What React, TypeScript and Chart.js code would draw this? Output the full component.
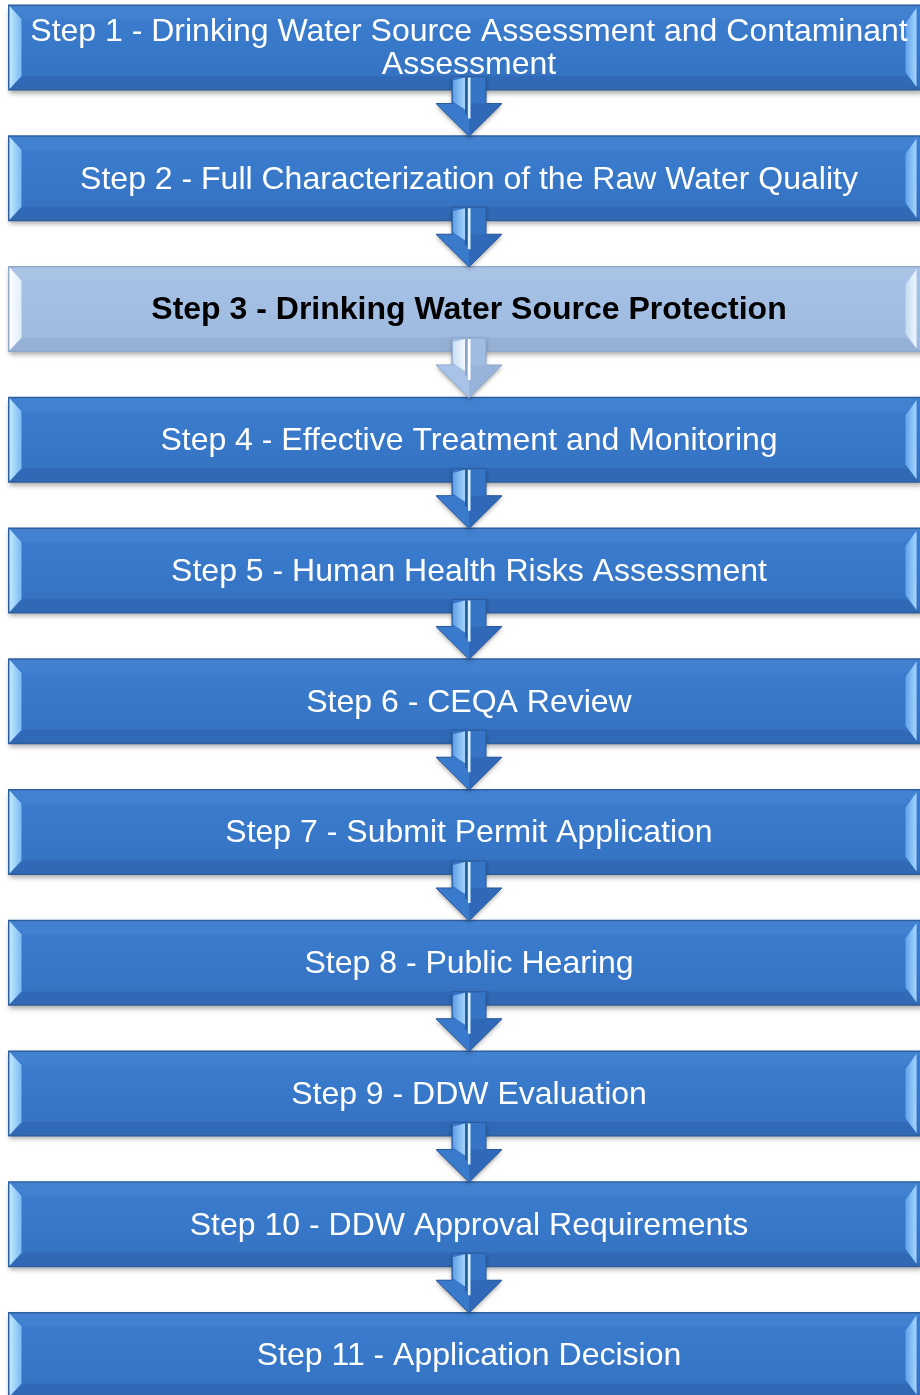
import React, { useEffect, useRef } from "react";
import { Chart, registerables } from "chart.js";

Chart.register(...registerables);

// ---- data ----
const STEP_LABELS: string[][] = [
  ["Step 1 - Drinking Water Source Assessment and Contaminant", "Assessment"],
  ["Step 2 - Full Characterization of the Raw Water Quality"],
  ["Step 3 - Drinking Water Source Protection"],
  ["Step 4 - Effective Treatment and Monitoring"],
  ["Step 5 - Human Health Risks Assessment"],
  ["Step 6 - CEQA Review"],
  ["Step 7 - Submit Permit Application"],
  ["Step 8 - Public Hearing"],
  ["Step 9 - DDW Evaluation"],
  ["Step 10 - DDW Approval Requirements"],
  ["Step 11 - Application Decision"],
];
const STEP_INDEX = [0, 1, 2, 3, 4, 5, 6, 7, 8, 9, 10];
const SPAN_START = [0, 0, 0, 0, 0, 0, 0, 0, 0, 0, 0];
const SPAN_END = [1, 1, 1, 1, 1, 1, 1, 1, 1, 1, 1];
const HIGHLIGHTED = [false, false, true, false, false, false, false, false, false, false, false];

type Pal = {
  border: string;
  top: string;
  mid: string;
  bot: string;
  topBevel: string;
  botBevel: string;
  left: [string, string];
  right: [string, string];
  text: string;
  weight: string;
  arrow: string;
  arrowL: string;
  arrowR: string;
  arrowHi: [string, string];
  arrowEdge: string;
  stripe: string;
};

const NORMAL: Pal = {
  border: "#2d5f9f",
  top: "#3b7dd0",
  mid: "#3878c9",
  bot: "#3470bf",
  topBevel: "rgba(255,255,255,0.04)",
  botBevel: "rgba(0,0,40,0.07)",
  left: ["#c0e8ff", "#70b2f2"],
  right: ["#5fa2ea", "#a6d6ff"],
  text: "#ffffff",
  weight: "normal",
  arrow: "#3574c6",
  arrowL: "#3a7acc",
  arrowR: "#3069b7",
  arrowHi: ["#5d9be2", "#a9d9ff"],
  arrowEdge: "#2b5c9c",
  stripe: "#d8f0ff",
};

const LIGHT: Pal = {
  border: "#8fa9ca",
  top: "#a6c1e5",
  mid: "#a3bee3",
  bot: "#9fbadf",
  topBevel: "rgba(255,255,255,0.05)",
  botBevel: "rgba(0,0,40,0.05)",
  left: ["#ffffff", "#d8ebfb"],
  right: ["#c4daf2", "#eef6ff"],
  text: "#000000",
  weight: "bold",
  arrow: "#a0bce2",
  arrowL: "#a8c3e7",
  arrowR: "#98b4db",
  arrowHi: ["#c7dcf3", "#f4faff"],
  arrowEdge: "#8ca7c9",
  stripe: "#ffffff",
};

const FONT = '"Liberation Sans", Arial, Helvetica, sans-serif';

function drawBox(ctx: CanvasRenderingContext2D, x0: number, y0: number, x1: number, y1: number, p: Pal) {
  const b = 14;
  const bt = 13;
  ctx.save();
  ctx.shadowColor = "rgba(0,0,0,0.35)";
  ctx.shadowBlur = 5;
  ctx.shadowOffsetX = 1;
  ctx.shadowOffsetY = 3;
  ctx.fillStyle = p.border;
  ctx.fillRect(x0, y0, x1 - x0, y1 - y0);
  ctx.restore();

  const ix0 = x0 + 1.5, iy0 = y0 + 1.5, ix1 = x1 - 1.5, iy1 = y1 - 1.5;
  const g = ctx.createLinearGradient(0, iy0, 0, iy1);
  g.addColorStop(0, p.top);
  g.addColorStop(0.5, p.mid);
  g.addColorStop(1, p.bot);
  ctx.fillStyle = g;
  ctx.fillRect(ix0, iy0, ix1 - ix0, iy1 - iy0);

  // top bevel
  ctx.beginPath();
  ctx.moveTo(ix0, iy0);
  ctx.lineTo(ix1, iy0);
  ctx.lineTo(ix1 - b, iy0 + bt);
  ctx.lineTo(ix0 + b, iy0 + bt);
  ctx.closePath();
  ctx.fillStyle = p.topBevel;
  ctx.fill();

  // bottom bevel
  ctx.beginPath();
  ctx.moveTo(ix0, iy1);
  ctx.lineTo(ix1, iy1);
  ctx.lineTo(ix1 - b, iy1 - bt);
  ctx.lineTo(ix0 + b, iy1 - bt);
  ctx.closePath();
  ctx.fillStyle = p.botBevel;
  ctx.fill();

  // left bevel
  ctx.beginPath();
  ctx.moveTo(ix0, iy0);
  ctx.lineTo(ix0 + b - 2, iy0 + bt);
  ctx.lineTo(ix0 + b - 2, iy1 - bt);
  ctx.lineTo(ix0, iy1);
  ctx.closePath();
  const gl = ctx.createLinearGradient(ix0, 0, ix0 + b, 0);
  gl.addColorStop(0, p.left[0]);
  gl.addColorStop(1, p.left[1]);
  ctx.fillStyle = gl;
  ctx.fill();

  // right bevel (inset a little, box runs off the page)
  const rx1 = ix1 - 4;
  const rx0 = rx1 - 11;
  ctx.beginPath();
  ctx.moveTo(rx1, iy0 + 2);
  ctx.lineTo(rx0, iy0 + bt + 4);
  ctx.lineTo(rx0, iy1 - bt - 4);
  ctx.lineTo(rx1, iy1 - 2);
  ctx.closePath();
  const gr = ctx.createLinearGradient(rx0, 0, rx1, 0);
  gr.addColorStop(0, p.right[0]);
  gr.addColorStop(1, p.right[1]);
  ctx.fillStyle = gr;
  ctx.fill();
}

function drawArrow(ctx: CanvasRenderingContext2D, cx: number, yTop: number, yBase: number, yTip: number, p: Pal) {
  const sw = 17;
  const hw = 33;
  ctx.save();
  ctx.beginPath();
  ctx.moveTo(cx - sw, yTop);
  ctx.lineTo(cx + sw, yTop);
  ctx.lineTo(cx + sw, yBase);
  ctx.lineTo(cx + hw, yBase);
  ctx.lineTo(cx, yTip);
  ctx.lineTo(cx - hw, yBase);
  ctx.lineTo(cx - sw, yBase);
  ctx.closePath();
  ctx.shadowColor = "rgba(0,0,0,0.35)";
  ctx.shadowBlur = 4;
  ctx.shadowOffsetY = 2;
  ctx.fillStyle = p.arrow;
  ctx.fill();
  ctx.restore();

  // head halves
  ctx.beginPath();
  ctx.moveTo(cx - hw, yBase);
  ctx.lineTo(cx, yBase);
  ctx.lineTo(cx, yTip);
  ctx.closePath();
  ctx.fillStyle = p.arrowL;
  ctx.fill();
  ctx.beginPath();
  ctx.moveTo(cx, yBase);
  ctx.lineTo(cx + hw, yBase);
  ctx.lineTo(cx, yTip);
  ctx.closePath();
  ctx.fillStyle = p.arrowR;
  ctx.fill();

  // shaft highlight on the left half
  const gh = ctx.createLinearGradient(cx - sw, 0, cx - 3, 0);
  gh.addColorStop(0, p.arrowHi[0]);
  gh.addColorStop(1, p.arrowHi[1]);
  ctx.beginPath();
  ctx.moveTo(cx - sw + 1, yTop + 4);
  ctx.lineTo(cx - 4, yTop + 1);
  ctx.lineTo(cx - 4, yBase + 6);
  ctx.lineTo(cx - sw + 1, yBase - 2);
  ctx.closePath();
  ctx.fillStyle = gh;
  ctx.fill();

  // dark seam + bright stripe
  ctx.fillStyle = p.arrowEdge;
  ctx.fillRect(cx - 4, yTop + 1, 2, yBase - yTop + 10);
  ctx.fillStyle = p.stripe;
  ctx.fillRect(cx - 1, yTop + 1, 2.5, yBase - yTop + 14);

  // outline
  ctx.beginPath();
  ctx.moveTo(cx - sw, yTop);
  ctx.lineTo(cx + sw, yTop);
  ctx.lineTo(cx + sw, yBase);
  ctx.lineTo(cx + hw, yBase);
  ctx.lineTo(cx, yTip);
  ctx.lineTo(cx - hw, yBase);
  ctx.lineTo(cx - sw, yBase);
  ctx.closePath();
  ctx.strokeStyle = p.arrowEdge;
  ctx.lineWidth = 1;
  ctx.stroke();
}

const flowPlugin = {
  id: "flowBoxes",
  afterDatasetsDraw(chart: any) {
    const ctx: CanvasRenderingContext2D = chart.ctx;
    const meta = chart.getDatasetMeta(0);
    const rects = meta.data.map((el: any) => {
      const pr = el.getProps(["x", "y", "base", "height"], true);
      const left = Math.min(pr.x, pr.base);
      const right = Math.max(pr.x, pr.base);
      return { x0: left, x1: right, y0: pr.y - pr.height / 2, y1: pr.y + pr.height / 2, cy: pr.y };
    });
    ctx.save();
    rects.forEach((r: any, i: number) => {
      drawBox(ctx, r.x0, r.y0, r.x1, r.y1, HIGHLIGHTED[i] ? LIGHT : NORMAL);
    });
    const cx = 469;
    rects.forEach((r: any, i: number) => {
      if (i >= rects.length - 1) return;
      const next = rects[i + 1];
      drawArrow(ctx, cx, r.y1 - 14, r.y1 + 13, next.y0 + 1, HIGHLIGHTED[i] ? LIGHT : NORMAL);
    });
    rects.forEach((r: any, i: number) => {
      const p = HIGHLIGHTED[i] ? LIGHT : NORMAL;
      const lines = STEP_LABELS[i];
      ctx.font = `${p.weight} 32px ${FONT}`;
      ctx.fillStyle = p.text;
      ctx.textAlign = "center";
      ctx.textBaseline = "middle";
      const lh = 33;
      const start = r.cy - ((lines.length - 1) * lh) / 2 + 1.5;
      lines.forEach((t: string, k: number) => {
        ctx.fillText(t, cx, start + k * lh);
      });
    });
    ctx.restore();
  },
};

export default function App() {
  const ref = useRef<HTMLCanvasElement | null>(null);
  useEffect(() => {
    document.body.style.margin = "0";
    document.body.style.overflow = "hidden";
    const canvas = ref.current;
    if (!canvas) return;
    const chart = new Chart(canvas, {
      type: "bar",
      data: {
        labels: STEP_LABELS.map((l) => l.join(" ")),
        datasets: [
          {
            data: STEP_INDEX.map((i) => ({ x: [SPAN_START[i], SPAN_END[i]], y: i })) as any,
            backgroundColor: "rgba(0,0,0,0)",
            borderWidth: 0,
            barThickness: 86,
          },
        ],
      },
      options: {
        indexAxis: "y",
        responsive: false,
        animation: false,
        devicePixelRatio: 1,
        layout: { padding: 0 },
        scales: {
          x: { type: "linear", display: false, offset: false, min: -0.00875, max: 0.99781 },
          y: { type: "linear", display: false, offset: false, reverse: true, min: -0.3633, max: 10.306 },
        },
        plugins: { legend: { display: false }, tooltip: { enabled: false } },
      },
      plugins: [flowPlugin],
    });
    return () => chart.destroy();
  }, []);
  return <canvas ref={ref} width={920} height={1395} style={{ display: "block", width: 920, height: 1395 }} />;
}
